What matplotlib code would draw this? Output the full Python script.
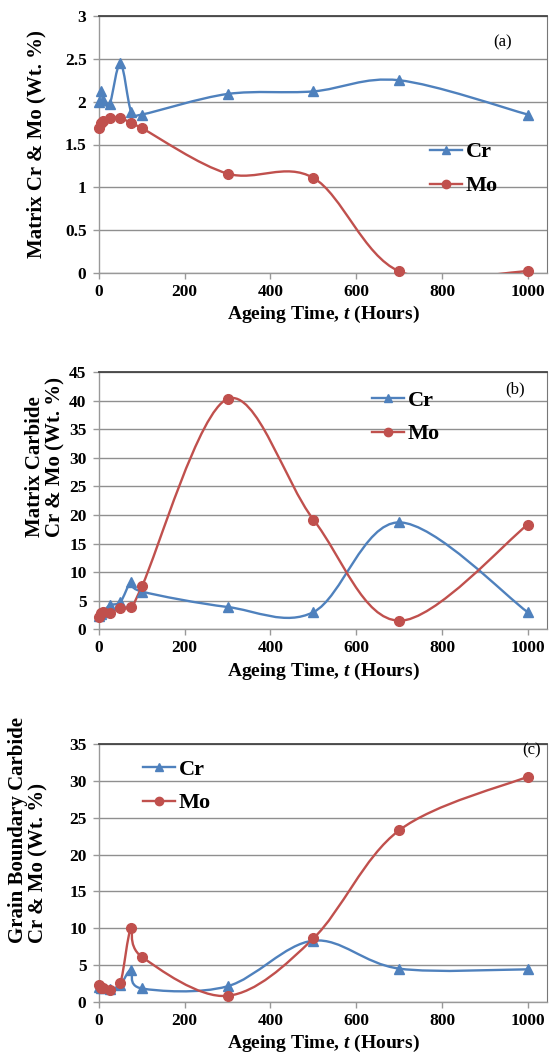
import numpy as np
import matplotlib
matplotlib.use("Agg")
import matplotlib.pyplot as plt
from matplotlib.path import Path
from matplotlib.patches import PathPatch
from matplotlib.lines import Line2D

plt.rcParams['font.family'] = ['Liberation Serif', 'DejaVu Serif']
plt.rcParams['font.weight'] = 'bold'
plt.rcParams['mathtext.fontset'] = 'custom'
plt.rcParams['mathtext.it'] = 'Liberation Serif:italic:bold'
plt.rcParams['mathtext.rm'] = 'Liberation Serif:bold'

# ---------------- data ----------------
hours = [0, 5, 10, 25, 50, 75, 100, 300, 500, 700, 1000]

cr_a = [2.0, 2.12, 2.02, 1.97, 2.45, 1.88, 1.85, 2.09, 2.12, 2.25, 1.85]
mo_a = [1.69, 1.75, 1.77, 1.81, 1.81, 1.75, 1.69, 1.16, 1.11, 0.02, 0.02]

cr_b = [2.3, 2.6, 3.0, 4.2, 4.8, 8.2, 6.6, 3.9, 3.0, 18.7, 3.0]
mo_b = [2.2, 2.9, 3.0, 2.8, 3.8, 3.9, 7.5, 40.3, 19.2, 1.5, 18.3]

cr_c = [2.0, 1.8, 1.8, 1.7, 2.3, 4.3, 1.8, 2.1, 8.3, 4.5, 4.4]
mo_c = [2.3, 1.9, 1.8, 1.6, 2.6, 10.0, 6.1, 0.8, 8.6, 23.3, 30.6]

x_ticks = [0, 200, 400, 600, 800, 1000]
y_ticks_a = [0, 0.5, 1, 1.5, 2, 2.5, 3]
y_labels_a = ['0', '0.5', '1', '1.5', '2', '2.5', '3']
y_ticks_b = [0, 5, 10, 15, 20, 25, 30, 35, 40, 45]
y_ticks_c = [0, 5, 10, 15, 20, 25, 30, 35]

ylabels = ['Matrix Cr & Mo (Wt. %)',
           'Matrix Carbide\nCr & Mo (Wt. %)',
           'Grain Boundary Carbide\nCr & Mo (Wt. %)']
tags = ['(a)', '(b)', '(c)']
series_names = ['Cr', 'Mo']

CR_COLOR = '#4F81BD'
MO_COLOR = '#C0504D'

W, H = 549, 1063
fig = plt.figure(figsize=(W / 100, H / 100), dpi=100)


def smooth_path(x, y):
    pts = np.column_stack([x, y]).astype(float)
    n = len(pts)
    verts = [pts[0]]
    codes = [Path.MOVETO]
    for i in range(n - 1):
        p0 = pts[i - 1] if i > 0 else pts[i]
        p1 = pts[i]
        p2 = pts[i + 1]
        p3 = pts[i + 2] if i + 2 < n else pts[i + 1]
        c1 = p1 + (p2 - p0) / 6.0
        c2 = p2 - (p3 - p1) / 6.0
        verts += [c1, c2, p2]
        codes += [Path.CURVE4] * 3
    return Path(verts, codes)


def px_axes(top, bottom, left=99, right=547):
    return [left / W, 1 - bottom / H, (right - left) / W, (bottom - top) / H]


panels = [
    dict(rect=px_axes(16, 273), ylim=(0, 3), yt=y_ticks_a, yl=y_labels_a,
         cr=cr_a, mo=mo_a, leg=(0.739, 0.51), tag=(503, 42),
         ylab_x=35, ylab_y=None),
    dict(rect=px_axes(372, 629.3), ylim=(0, 45), yt=y_ticks_b, yl=[str(v) for v in y_ticks_b],
         cr=cr_b, mo=mo_b, leg=(0.609, 0.93), tag=(515, 389),
         ylab_x=45, ylab_y=537),
    dict(rect=px_axes(744.3, 1001.7), ylim=(0, 35), yt=y_ticks_c, yl=[str(v) for v in y_ticks_c],
         cr=cr_c, mo=mo_c, leg=(0.098, 0.943), tag=(532, 750),
         ylab_x=28, ylab_y=943),
]

for i, p in enumerate(panels):
    ax = fig.add_axes(p['rect'])
    ax.set_xlim(0, 1045)
    ax.set_ylim(*p['ylim'])
    ax.set_axisbelow(True)
    ax.yaxis.grid(True, color='#8f8f8f', lw=1.0)
    ax.set_xticks(x_ticks)
    ax.set_xticklabels([str(v) for v in x_ticks])
    ax.set_yticks(p['yt'])
    ax.set_yticklabels(p['yl'])
    ax.tick_params(axis='both', labelsize=12.5, direction='out', length=4,
                   color='#999999', width=1)
    ax.tick_params(axis='x', pad=4)
    ax.tick_params(axis='y', pad=5)
    for s in ['left', 'bottom']:
        ax.spines[s].set_color('#999999')
        ax.spines[s].set_linewidth(1.0)
    ax.spines['right'].set_color('#777777')
    ax.spines['top'].set_color('#444444')
    ax.spines['top'].set_linewidth(1.3)

    for vals, col, mk, ms in [(p['cr'], CR_COLOR, '^', 7), (p['mo'], MO_COLOR, 'o', 7)]:
        patch = PathPatch(smooth_path(hours, vals), facecolor='none', edgecolor=col,
                          lw=1.7, zorder=3)
        ax.add_patch(patch)
        ax.plot(hours, vals, linestyle='none', marker=mk, color=col, markersize=ms,
                zorder=4, clip_on=False)

    ax.set_xlabel('Ageing Time, $\\mathit{t}$ (Hours)', fontsize=14, fontweight='bold', labelpad=3)

    handles = [Line2D([], [], color=CR_COLOR, marker='^', markersize=6, lw=1.7),
               Line2D([], [], color=MO_COLOR, marker='o', markersize=6, lw=1.7)]
    ax.legend(handles, series_names, loc='upper left', bbox_to_anchor=p['leg'],
              frameon=False, handlelength=1.45, handletextpad=0.15,
              labelspacing=0.6, borderpad=0, borderaxespad=0,
              prop=dict(family='Liberation Serif', weight='bold', size=16))

    tx, ty = p['tag']
    fig.text(tx / W, 1 - ty / H, tags[i], fontsize=12,
             fontweight='normal', ha='center', va='center')

    if p['ylab_y'] is None:
        ax.set_ylabel(ylabels[i], fontsize=15, fontweight='bold', labelpad=13)
    else:
        fig.text(p['ylab_x'] / W, 1 - p['ylab_y'] / H, ylabels[i], fontsize=15,
                 fontweight='bold', rotation=90, ha='center', va='bottom',
                 multialignment='left', linespacing=1.05)

fig.savefig('out.png', dpi=100)
